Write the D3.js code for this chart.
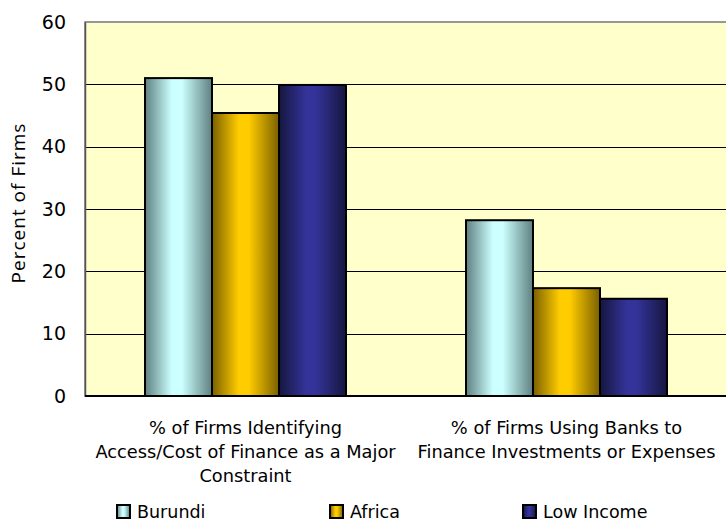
<!DOCTYPE html>
<html><head><meta charset="utf-8">
<script src="https://cdn.jsdelivr.net/npm/d3@7"></script>
<style>body{margin:0;background:#fff}svg{display:block}text{font-family:"DejaVu Sans",sans-serif;fill:#000}</style>
</head><body>
<svg id="c" width="726" height="523"></svg>
<script>
const categories = [
  ["% of Firms Identifying", "Access/Cost of Finance as a Major", "Constraint"],
  ["% of Firms Using Banks to", "Finance Investments or Expenses"]
];
const seriesNames = ["Burundi", "Africa", "Low Income"];
const burundi = [51.0, 28.2];
const africa = [45.4, 17.3];
const lowIncome = [49.9, 15.6];
const yTicks = [0, 10, 20, 30, 40, 50, 60];

const series = [burundi, africa, lowIncome];
const colors = [
  {edge: "#5f8080", mid: "#ccffff"},
  {edge: "#7a6000", mid: "#ffcc00"},
  {edge: "#16163f", mid: "#333399"}
];

const svg = d3.select("#c");
const m = {left: 85, top: 22, right: 727, bottom: 396};
const x0 = d3.scaleBand().domain(d3.range(categories.length)).range([m.left, m.right]).paddingInner(0).paddingOuter(0);
const y = d3.scaleLinear().domain([0, 60]).range([m.bottom, m.top]);

const defs = svg.append("defs");
colors.forEach((c, i) => {
  const g = defs.append("linearGradient").attr("id", "g" + i).attr("x1", "0").attr("x2", "1").attr("y1", "0").attr("y2", "0");
  g.append("stop").attr("offset", "0").attr("stop-color", c.edge);
  g.append("stop").attr("offset", "0.4").attr("stop-color", c.mid);
  g.append("stop").attr("offset", "0.55").attr("stop-color", c.mid);
  g.append("stop").attr("offset", "1").attr("stop-color", c.edge);
});

// plot background
svg.append("rect").attr("x", m.left).attr("y", m.top).attr("width", m.right - m.left).attr("height", m.bottom - m.top)
  .attr("fill", "#ffffcc").attr("stroke", "#777").attr("stroke-width", 1.5);

// gridlines
svg.append("g").selectAll("line").data(yTicks.filter(t => t > 0 && t < 60)).join("line")
  .attr("x1", m.left).attr("x2", m.right).attr("y1", d => Math.round(y(d)) + 0.5).attr("y2", d => Math.round(y(d)) + 0.5)
  .attr("stroke", "#000").attr("stroke-width", 1);

// y axis
const yAxis = d3.axisLeft(y).tickValues(yTicks).tickSize(0).tickPadding(19);
const ya = svg.append("g").attr("transform", `translate(${m.left},0)`).call(yAxis);
ya.select(".domain").attr("stroke", "#555").attr("stroke-width", 1.5);
ya.selectAll("text").style("font-size", "19px").attr("font-family", "DejaVu Sans").attr("fill", "#000");

// bars
const barW = 67;
const groupW = barW * 3;
series.forEach((vals, si) => {
  svg.append("g").selectAll("rect").data(vals).join("rect")
    .attr("x", (d, i) => x0(i) + (x0.bandwidth() - groupW) / 2 + si * barW)
    .attr("y", d => y(d))
    .attr("width", barW)
    .attr("height", d => y(0) - y(d))
    .attr("fill", `url(#g${si})`)
    .attr("stroke", "#000").attr("stroke-width", 2);
});

// baseline
svg.append("line").attr("x1", m.left).attr("x2", m.right).attr("y1", m.bottom).attr("y2", m.bottom).attr("stroke", "#000").attr("stroke-width", 2);

// category labels
categories.forEach((lines, i) => {
  const t = svg.append("text").attr("text-anchor", "middle").style("font-size", "17.8px");
  lines.forEach((l, j) => {
    t.append("tspan").attr("x", x0(i) + x0.bandwidth() / 2).attr("y", 434 + j * 24).text(l);
  });
});

// y title
svg.append("text").attr("transform", `translate(25,203) rotate(-90)`).attr("text-anchor", "middle")
  .style("font-family", "'Open Sans', sans-serif").style("font-size", "19px").style("letter-spacing", "1px").text("Percent of Firms");

// legend
const legX = [117, 330, 523];
seriesNames.forEach((n, i) => {
  svg.append("rect").attr("x", legX[i]).attr("y", 505).attr("width", 13).attr("height", 13)
    .attr("fill", `url(#g${i})`).attr("stroke", "#000").attr("stroke-width", 2);
  svg.append("text").attr("x", legX[i] + 20).attr("y", 518).style("font-size", "17.5px").text(n);
});
</script>
</body></html>
